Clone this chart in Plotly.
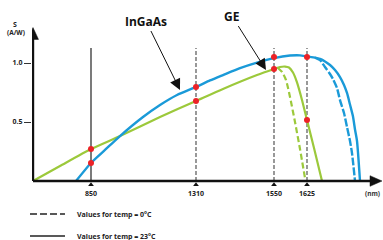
import plotly.graph_objects as go

# ---- data (schematic x position along the wavelength axis, responsivity S in A/W) ----
tick_pos = [58, 163, 241, 274]
tick_labels = ["850", "1310", "1550", "1625"]
s_ticks = [0.5, 1.0]
s_tick_labels = ["0.5", "1.0"]
ref_line_top = 1.127

ingaas_23_x = [43, 58, 72, 87, 110, 127, 144, 163, 177, 190, 207, 224, 241, 257, 267, 274, 282, 287, 292, 297, 302, 307, 311, 314, 317, 320, 322, 324, 327]
ingaas_23_s = [0.0, 0.153, 0.263, 0.381, 0.542, 0.644, 0.729, 0.797, 0.852, 0.898, 0.957, 1.004, 1.042, 1.063, 1.065, 1.055, 1.046, 1.034, 1.013, 0.983, 0.941, 0.881, 0.814, 0.746, 0.648, 0.547, 0.436, 0.339, 0.0]

ingaas_0_x = [282, 287, 292, 297, 300, 304, 307, 311, 314, 317, 319, 322]
ingaas_0_s = [1.046, 1.025, 0.966, 0.907, 0.864, 0.788, 0.686, 0.576, 0.458, 0.339, 0.237, 0.0]

ge_23_x = [0, 27, 58, 87, 127, 163, 190, 224, 241, 247, 252, 256, 260, 264, 269, 274, 281, 289]
ge_23_s = [0.0, 0.127, 0.271, 0.381, 0.542, 0.678, 0.780, 0.898, 0.949, 0.966, 0.970, 0.962, 0.919, 0.835, 0.686, 0.517, 0.280, 0.0]

ge_0_x = [245, 249, 253, 257, 262, 267, 272.5]
ge_0_s = [0.958, 0.924, 0.856, 0.712, 0.500, 0.271, 0.0]

dot_x = [58, 58, 163, 163, 241, 241, 274, 274]
dot_s = [0.153, 0.271, 0.797, 0.678, 1.051, 0.949, 1.051, 0.517]

BLUE = "#1a9ad8"
GREEN = "#9cc93b"
RED = "#ec2227"
INK = "#111"
FONT = "Open Sans"

fig = go.Figure()

# reference wavelength lines
for i, xp in enumerate(tick_pos):
    fig.add_trace(go.Scatter(
        x=[xp, xp], y=[0, ref_line_top], mode="lines",
        line=dict(color="#222" if i == 0 else "#555", width=1.2,
                  dash="solid" if i == 0 else "4px,2px"),
        showlegend=False, hoverinfo="skip"))

fig.add_trace(go.Scatter(x=ge_0_x, y=ge_0_s, mode="lines", line=dict(color=GREEN, width=2.2, dash="6px,3px", shape="spline", smoothing=0.6), showlegend=False, hoverinfo="skip"))
fig.add_trace(go.Scatter(x=ge_23_x, y=ge_23_s, mode="lines", line=dict(color=GREEN, width=2.2, shape="spline", smoothing=0.6), showlegend=False, hoverinfo="skip"))
fig.add_trace(go.Scatter(x=ingaas_0_x, y=ingaas_0_s, mode="lines", line=dict(color=BLUE, width=2.4, dash="8px,2px", shape="spline", smoothing=0.6), showlegend=False, hoverinfo="skip"))
fig.add_trace(go.Scatter(x=ingaas_23_x, y=ingaas_23_s, mode="lines", line=dict(color=BLUE, width=2.4, shape="spline", smoothing=0.6), showlegend=False, hoverinfo="skip"))

# axes lines with filled arrowheads
fig.add_trace(go.Scatter(x=[0, 0], y=[0, 1.215], mode="lines", line=dict(color=INK, width=2.4), showlegend=False, hoverinfo="skip"))
fig.add_trace(go.Scatter(x=[0, 340], y=[0, 0], mode="lines", line=dict(color=INK, width=2.4), showlegend=False, hoverinfo="skip"))
fig.add_trace(go.Scatter(x=[-5.5, 0, 5.5, -5.5], y=[1.200, 1.300, 1.200, 1.200], mode="lines", fill="toself",
                         fillcolor=INK, line=dict(color=INK, width=0.5), showlegend=False, hoverinfo="skip"))
fig.add_trace(go.Scatter(x=[337, 349, 337, 337], y=[-0.045, 0, 0.045, -0.045], mode="lines", fill="toself",
                         fillcolor=INK, line=dict(color=INK, width=0.5), showlegend=False, hoverinfo="skip"))
fig.add_trace(go.Scatter(x=tick_pos, y=[-0.032] * 4, mode="markers", marker=dict(symbol="triangle-up", size=5, color=INK), showlegend=False, cliponaxis=False, hoverinfo="skip"))

fig.add_trace(go.Scatter(x=dot_x, y=dot_s, mode="markers", marker=dict(color=RED, size=6), showlegend=False, cliponaxis=False, hoverinfo="skip"))

ann_font = dict(family=FONT, size=12, color=INK)
small = dict(family=FONT, size=7, color="#222", weight="bold")

# legend drawn in paper coordinates (below the plot)
leg_y = [-0.1605, -0.2963]
leg_txt = ["Values for temp = 0°C", "Values for temp = 23°C"]
leg_dash = ["7px,3px", "solid"]
shapes = []
annotations = []
for yy, tt, dd in zip(leg_y, leg_txt, leg_dash):
    shapes.append(dict(type="line", xref="paper", yref="paper", x0=-0.0057, x1=0.094, y0=yy, y1=yy,
                       line=dict(color="#222", width=1.6, dash=dd)))
    annotations.append(dict(x=0.1225, y=yy, xref="paper", yref="paper", xanchor="left", yanchor="middle",
                            text=f"<b>{tt}</b>", showarrow=False, font=small))

annotations += [
    dict(x=147, y=0.771, ax=113, ay=1.356, xref="x", yref="y", axref="x", ayref="y", text="<b>InGaAs</b>",
         font=ann_font, showarrow=True, arrowhead=2, arrowsize=2.2, arrowwidth=1, arrowcolor=INK),
    dict(x=233, y=0.941, ax=199, ay=1.398, xref="x", yref="y", axref="x", ayref="y", text="<b>GE</b>",
         font=ann_font, showarrow=True, arrowhead=2, arrowsize=2.2, arrowwidth=1, arrowcolor=INK),
    dict(x=-0.0484, y=1.0123, xref="paper", yref="paper", xanchor="center", yanchor="middle",
         text="<b>S</b>", showarrow=False, font=small),
    dict(x=-0.0456, y=0.9568, xref="paper", yref="paper", xanchor="center", yanchor="middle",
         text="<b>(A/W)</b>", showarrow=False, font=dict(family=FONT, size=6.5, color="#222")),
    dict(x=0.9715, y=-0.031, xref="paper", yref="paper", xanchor="center", yanchor="middle",
         text="<b>(nm)</b>", showarrow=False, font=dict(family=FONT, size=6.5, color="#333")),
]

fig.update_layout(
    width=383, height=240,
    margin=dict(l=32, r=0, t=26, b=52, autoexpand=False),
    paper_bgcolor="white", plot_bgcolor="white",
    xaxis=dict(range=[-1, 350], showgrid=False, zeroline=False, showline=False,
               tickvals=tick_pos, ticktext=tick_labels, ticks="", tickfont=small),
    yaxis=dict(range=[-0.0593, 1.3136], showgrid=False, zeroline=False, showline=False,
               tickvals=s_ticks, ticktext=s_tick_labels, ticks="outside", ticklen=7, tickcolor="#333", tickwidth=1, tickfont=small),
    showlegend=False,
    hovermode=False,
    shapes=shapes,
    annotations=annotations,
)

# remove the browser's default 8px page margin so the figure sits at the window's top-left corner
fig.write_html("out.html", config={"displayModeBar": False, "staticPlot": True},
               post_script="document.body.style.margin='0';document.body.style.overflow='hidden';")
